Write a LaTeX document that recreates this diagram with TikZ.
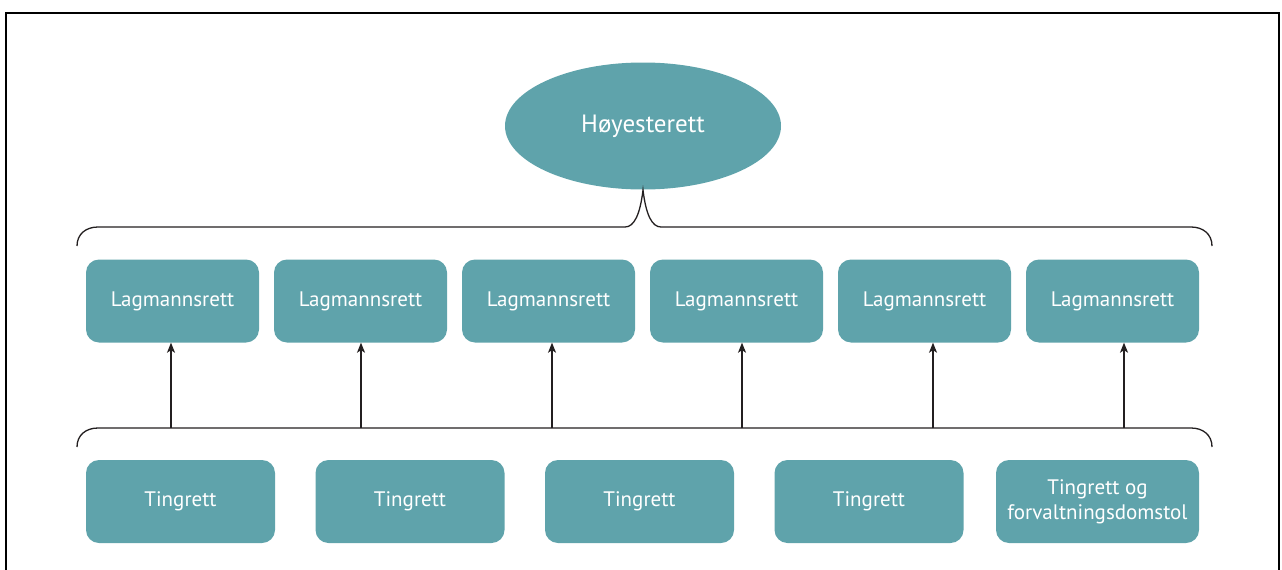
\documentclass[tikz,border=0pt]{standalone}
\usepackage{fontspec}
\setmainfont{PT Sans}
\usetikzlibrary{arrows.meta,shapes.geometric}
\definecolor{court}{RGB}{95,163,171}
\definecolor{ink}{RGB}{35,31,32}
\begin{document}
\begin{tikzpicture}[x=1pt,y=-1pt,
  courtbox/.style={fill=court, text=white, rounded corners=13pt, inner sep=0pt,
    font=\fontsize{21}{25}\selectfont, align=center, minimum height=83pt},
  appealbox/.style={courtbox, minimum width=173pt},
  firstbox/.style={courtbox, minimum width=189pt},
  brace/.style={draw=ink, line width=1.3pt},
  uparrow/.style={draw=ink, line width=1.1pt, -{Stealth[length=10pt,width=8pt,inset=2.5pt]}},
  frame/.style={draw=black, line width=2.5pt}]
\useasboundingbox (0,0) rectangle (1282,570);

% outer frame, open at the bottom
\draw[frame] (6,572) -- (6,13) -- (1279,13) -- (1279,572);

% supreme court
\node[ellipse, fill=court, text=white, minimum width=276pt, minimum height=127pt,
  inner sep=0pt, font=\fontsize{25}{30}\selectfont] (hr) at (643,126) {Høyesterett};

% courts of appeal
\foreach \i/\x in {1/172.5, 2/360.5, 3/548.5, 4/736.5, 5/924.5, 6/1112.5}
  \node[appealbox] (l\i) at (\x,301) {\raisebox{-1.5pt}{Lagmannsrett}};

% district courts
\node[firstbox] (t1) at (180.5,501.5) {\raisebox{-1.5pt}{Tingrett}};
\node[firstbox] (t2) at (410,501.5) {\raisebox{-1.5pt}{Tingrett}};
\node[firstbox] (t3) at (639.5,501.5) {\raisebox{-1.5pt}{Tingrett}};
\node[firstbox] (t4) at (869,501.5) {\raisebox{-1.5pt}{Tingrett}};
\node[courtbox, minimum width=203pt] (t5) at (1097.5,501.5) {Tingrett og\\forvaltningsdomstol};

% brace gathering the courts of appeal under the supreme court
\coordinate (tip) at (643,190);
\draw[brace] (77,246) .. controls (77,234) and (86,227) .. (98,227)
  -- (625,227) .. controls (634,227) and (640,215) .. (tip)
  .. controls (646,215) and (652,227) .. (661,227)
  -- (1191,227) .. controls (1203,227) and (1212,234) .. (1212,246);

% brace over the district courts
\draw[brace] (77,447) .. controls (77,435) and (86,428) .. (98,428)
  -- (1191,428) .. controls (1203,428) and (1212,435) .. (1212,447);

% appeals from the district level
\foreach \i/\x in {1/171, 2/361, 3/552, 4/742, 5/933, 6/1124} {
  \coordinate (a\i) at (\x,428);
  \draw[uparrow] (a\i) -- (a\i |- l\i.south);
}
\end{tikzpicture}
\end{document}
